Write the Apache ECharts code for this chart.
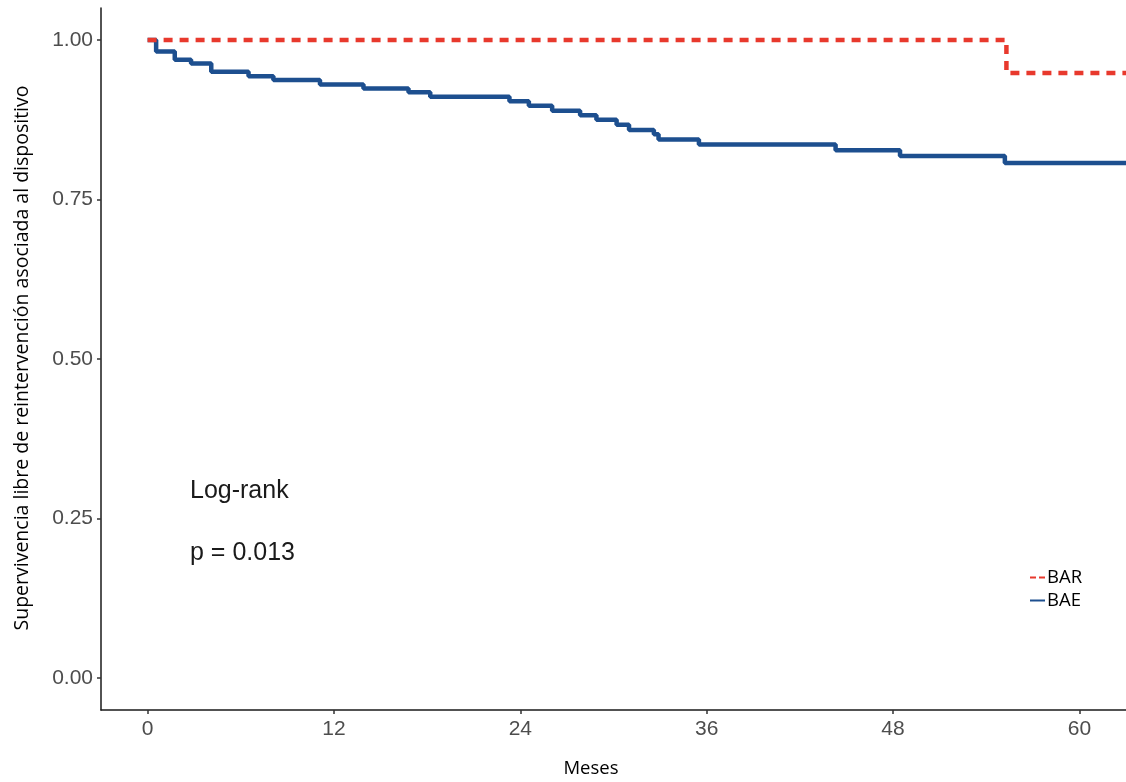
<!DOCTYPE html>
<html><head><meta charset="utf-8">
<script src="https://cdn.jsdelivr.net/npm/echarts@6/dist/echarts.min.js"></script>
<style>html,body{margin:0;padding:0;background:#fff}#c{width:1126px;height:782px}</style>
</head><body><div id="c"></div>
<script>
const xTicks = [0, 12, 24, 36, 48, 60];
const yTicks = [0, 0.25, 0.5, 0.75, 1.0];
const baeTimes = [0, 0.55, 1.75, 2.8, 4.1, 6.5, 8.1, 11.1, 13.9, 16.8, 18.2, 23.3, 24.55, 26.05, 27.85, 28.9, 30.2, 31.0, 32.6, 32.9, 35.5, 44.3, 48.45, 55.2, 63];
const baeSurv = [1.0, 0.982, 0.969, 0.963, 0.950, 0.943, 0.937, 0.930, 0.924, 0.918, 0.911, 0.904, 0.897, 0.889, 0.882, 0.875, 0.867, 0.859, 0.852, 0.844, 0.836, 0.827, 0.818, 0.807, 0.807];
const barTimes = [0, 55.3, 63];
const barSurv = [1.0, 0.948, 0.948];

const chart = echarts.init(document.getElementById('c'), null, {renderer: 'canvas'});
const sansFont = "'Liberation Sans', Arial, sans-serif";
const tickFont = {color: '#4d4d4d', fontSize: 21, fontFamily: sansFont};
chart.setOption({
  animation: false,
  grid: {left: 101, right: 0, top: 8, bottom: 72},
  xAxis: {
    type: 'value', min: -3, max: 63,
    axisLine: {show: true, onZero: false, lineStyle: {color: '#1a1a1a', width: 1.5}},
    axisTick: {show: true, length: 4, customValues: xTicks, lineStyle: {color: '#333', width: 1.5}},
    axisLabel: {customValues: xTicks, margin: 9, ...tickFont},
    splitLine: {show: false}
  },
  yAxis: {
    type: 'value', min: -0.05, max: 1.05,
    axisLine: {show: true, onZero: false, lineStyle: {color: '#1a1a1a', width: 1.5}},
    axisTick: {show: true, length: 4, customValues: yTicks, lineStyle: {color: '#333', width: 1.5}},
    axisLabel: {customValues: yTicks, margin: 8, formatter: v => v.toFixed(2), ...tickFont},
    splitLine: {show: false}
  },
  legend: {
    orient: 'vertical', left: 1025, top: 563, itemWidth: 15, itemHeight: 2, itemGap: 4,
    symbolKeepAspect: false,
    textStyle: {color: '#000', fontSize: 18.5, fontFamily: 'Open Sans, sans-serif', padding: [0,0,0,-3]},
    data: [
      {name: 'BAR', icon: 'path://M0,0h6v1h-6z M9,0h6v1h-6z'},
      {name: 'BAE', icon: 'path://M0,0h15v1h-15z'}
    ]
  },
  series: [
    {name: 'BAE', type: 'line', step: 'end', symbol: 'none', clip: true,
     data: baeTimes.map((t, i) => [t, baeSurv[i]]),
     lineStyle: {color: '#1d4f8f', width: 4.5}, itemStyle: {color: '#1d4f8f'}},
    {name: 'BAR', type: 'line', step: 'end', symbol: 'none', clip: true,
     data: barTimes.map((t, i) => [t, barSurv[i]]),
     lineStyle: {color: '#e8392d', width: 4.5, type: [9, 7]}, itemStyle: {color: '#e8392d'}}
  ],
  graphic: [
    {type: 'text', x: 190, y: 491, style: {text: 'Log-rank', fontSize: 25, fill: '#1a1a1a', verticalAlign: 'middle', fontFamily: sansFont}},
    {type: 'text', x: 190, y: 553, style: {text: 'p = 0.013', fontSize: 25, fill: '#1a1a1a', verticalAlign: 'middle', fontFamily: sansFont}},
    {type: 'text', x: 591, y: 769, style: {text: 'Meses', fontSize: 18.5, fill: '#000', align: 'center', verticalAlign: 'middle', fontFamily: 'Open Sans, sans-serif'}},
    {type: 'text', x: 22, y: 358, rotation: Math.PI / 2, style: {text: 'Supervivencia libre de reintervención asociada al dispositivo', fontSize: 19.5, fill: '#000', align: 'center', verticalAlign: 'middle', fontFamily: 'Open Sans, sans-serif'}}
  ]
});
</script></body></html>
